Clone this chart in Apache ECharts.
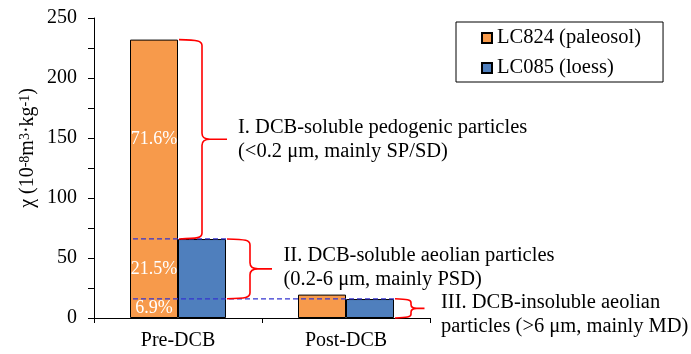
<!DOCTYPE html>
<html>
<head>
<meta charset="utf-8">
<script src="https://cdn.jsdelivr.net/npm/echarts@6/dist/echarts.min.js"></script>
<style>
  html, body { margin: 0; padding: 0; background: #fff; }
  #chart { width: 691px; height: 354px; }
</style>
</head>
<body>
<div id="chart"></div>
<script>
// Magnetic susceptibility before and after DCB extraction
const categories = ['Pre-DCB', 'Post-DCB'];
const paleosolValues = [232, 19.5];   // LC824 (paleosol)
const loessValues = [65.8, 15.8];     // LC085 (loess)
const seriesNames = ['LC824 (paleosol)', 'LC085 (loess)'];

// Share of the Pre-DCB paleosol susceptibility held by each fraction (I, II, III)
const fractionShares = [0.716, 0.215, 0.069];
const fractionLabels = ['71.6%', '21.5%', '6.9%'];
const fractionTexts = [
  ['I. DCB-soluble pedogenic particles', '(<0.2 \u03bcm, mainly SP/SD)'],
  ['II. DCB-soluble aeolian particles', '(0.2-6 \u03bcm, mainly PSD)'],
  ['III. DCB-insoluble aeolian', 'particles (>6 \u03bcm, mainly MD)']
];

const yTicks = { min: 0, max: 250, interval: 50 };

const SERIF = '"Liberation Serif", "Times New Roman", serif';
const BAR_FRAC = 0.2857;   // bar width as a share of the category band
const ORANGE = '#F79A4B';
const BLUE = '#4F7FBD';

// Fraction boundaries on the paleosol Pre-DCB bar
const total = paleosolValues[0];
const bI = total * (fractionShares[1] + fractionShares[2]);  // top of fraction II
const bII = total * fractionShares[2];                        // top of fraction III
const segments = [[total, bI], [bI, bII], [bII, 0]];

function bracePath(xs, yT, yB, xv, xt) {
  const ym = (yT + yB) / 2;
  const r = Math.min(6, (yB - yT) / 5);
  return [
    'M', xs, yT,
    'C', xv - 4, yT + 0.5, xv, yT + 1, xv, yT + r,
    'L', xv, ym - r,
    'Q', xv, ym, xv + r + 2, ym,
    'L', xt, ym,
    'M', xv + r + 2, ym,
    'Q', xv, ym, xv, ym + r,
    'L', xv, yB - r,
    'C', xv, yB - 1, xv - 4, yB - 0.5, xs, yB
  ].join(' ');
}

function renderNotes(params, api) {
  const band = api.size([1, 0])[0];
  const barW = band * BAR_FRAC;
  const preX = api.coord([0, 0])[0];
  const postX = api.coord([1, 0])[0];
  const y = v => api.coord([0, v])[1];
  const children = [];
  const red = { stroke: '#FF0000', lineWidth: 1.6, fill: null };
  const dash = { stroke: '#3535D0', lineWidth: 1.3, lineDash: [5, 3] };

  // dashed guides at the fraction boundaries
  children.push({ type: 'line', shape: { x1: preX - barW + 3, y1: y(bI), x2: preX + barW, y2: y(bI) }, style: dash });
  children.push({ type: 'line', shape: { x1: preX - barW + 3, y1: y(bII), x2: postX + barW, y2: y(bII) }, style: dash });

  // braces: [left x, arm length, tip length, text dx, text dy]
  const braces = [
    [preX + 1, 23, 25, 11, 0],
    [preX + barW + 1, 23, 22, 11.5, -1],
    [postX + barW + 1, 16, 13.5, 16.5, 6]
  ];
  braces.forEach((b, i) => {
    const yT = y(segments[i][0]);
    const yB = y(segments[i][1]);
    const xv = b[0] + b[1];
    const xt = xv + b[2];
    children.push({ type: 'path', shape: { pathData: bracePath(b[0], yT, yB, xv, xt) }, style: red });
    children.push({
      type: 'text',
      style: {
        text: fractionTexts[i].join('\n'),
        x: xt + b[3], y: (yT + yB) / 2 + b[4],
        align: 'left', verticalAlign: 'middle',
        font: '20.5px ' + SERIF, lineHeight: 24, fill: '#000'
      }
    });
    // share of each fraction inside the paleosol bar
    children.push({
      type: 'text',
      style: {
        text: fractionLabels[i],
        x: preX - barW / 2, y: y((segments[i][0] + segments[i][1]) / 2),
        align: 'center', verticalAlign: 'middle',
        font: '18px ' + SERIF, fill: '#fff'
      }
    });
  });
  return { type: 'group', children: children };
}

const chart = echarts.init(document.getElementById('chart'), null, { renderer: 'canvas' });
chart.setOption({
  backgroundColor: '#fff',
  animation: false,
  textStyle: { fontFamily: SERIF, color: '#000' },
  grid: { left: 94, top: 18, right: 261, bottom: 36, containLabel: false },
  legend: {
    orient: 'vertical',
    left: 456, top: 22,
    data: seriesNames,
    icon: 'rect',
    itemWidth: 10, itemHeight: 10,
    itemGap: 8,
    padding: [5, 22, 3, 25],
    borderColor: '#000', borderWidth: 1,
    textStyle: { fontFamily: SERIF, fontSize: 20.5, color: '#000', lineHeight: 22 }
  },
  xAxis: {
    type: 'category',
    data: categories,
    axisLine: { lineStyle: { color: '#000', width: 1 } },
    axisTick: { show: true, length: 5, lineStyle: { color: '#000' } },
    axisLabel: { fontFamily: SERIF, fontSize: 20, color: '#000', margin: 13 },
    splitLine: { show: false }
  },
  yAxis: {
    type: 'value',
    min: yTicks.min, max: yTicks.max, interval: yTicks.interval,
    name: '\u03c7 (10{sup|-8}m{sup|3}\u00b7kg{sup|-1})',
    nameLocation: 'middle',
    nameGap: 56,
    nameTextStyle: {
      fontFamily: SERIF, fontSize: 20, color: '#000',
      padding: [0, 0, 0, 40],
      rich: { sup: { fontFamily: SERIF, fontSize: 14, color: '#000', verticalAlign: 'top', lineHeight: 20 } }
    },
    axisLine: { show: true, lineStyle: { color: '#000', width: 1 } },
    axisTick: { show: true, length: 6, lineStyle: { color: '#000' } },
    minorTick: { show: true, splitNumber: 2, length: 6, lineStyle: { color: '#000' } },
    axisLabel: { fontFamily: SERIF, fontSize: 20, color: '#000', margin: 17 },
    splitLine: { show: false }
  },
  series: [
    {
      name: seriesNames[0], type: 'bar', data: paleosolValues,
      barWidth: (BAR_FRAC * 100) + '%', barGap: '0%',
      itemStyle: { color: ORANGE, borderColor: '#000', borderWidth: 1 }
    },
    {
      name: seriesNames[1], type: 'bar', data: loessValues,
      barWidth: (BAR_FRAC * 100) + '%', barGap: '0%',
      itemStyle: { color: BLUE, borderColor: '#000', borderWidth: 1 }
    },
    {
      type: 'custom', renderItem: renderNotes, data: [[0, 0]],
      encode: { x: 0, y: 1 }, z: 5, silent: true, clip: false
    }
  ]
});
</script>
</body>
</html>
